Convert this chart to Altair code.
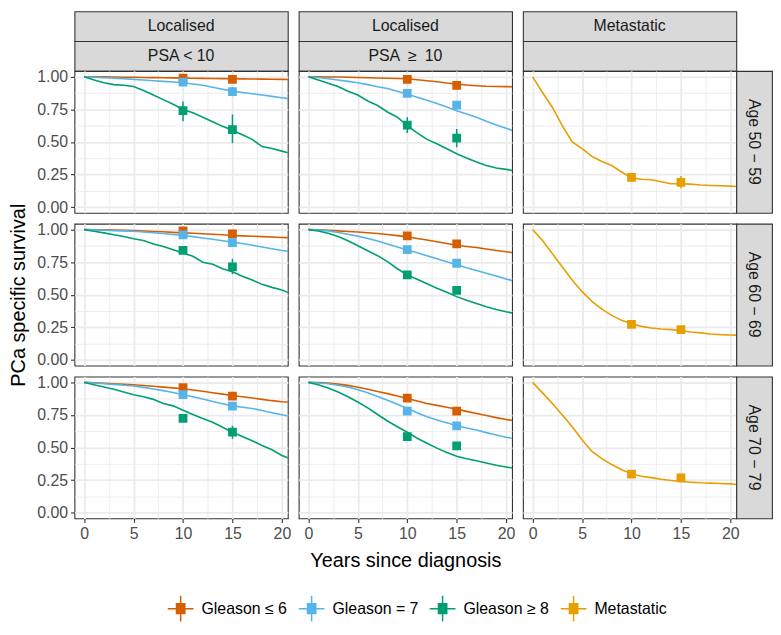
import altair as alt
import pandas as pd

FONT = "Liberation Sans"
YEARS = list(range(22))
SERIES = ["Gleason \u2264 6", "Gleason = 7", "Gleason \u2265 8", "Metastatic"]
COLORS = ["#D55E00", "#56B4E9", "#009E73", "#E69F00"]
COL_TOP = ["Localised", "Localised", "Metastatic"]
COL_SUB = ["PSA < 10", "PSA\u2002\u2265\u200210", ""]
ROW_LABELS = ["Age 50 \u2212 59", "Age 60 \u2212 69", "Age 70 \u2212 79"]
X_TICKS = [0, 2.5, 5, 7.5, 10, 12.5, 15, 17.5, 20]
Y_TICKS = [0, 0.125, 0.25, 0.375, 0.5, 0.625, 0.75, 0.875, 1.0]
POINT_YEARS = [10, 15]

# ---- survival curves (years 0..21) ----
# Row 1: Age 50-59
A1_G6 = [1.0, 1.0, 1.0, 0.998, 0.997, 0.996, 0.995, 0.994, 0.993, 0.992, 0.99, 0.989, 0.988, 0.987, 0.986, 0.985, 0.984, 0.983, 0.982, 0.981, 0.98, 0.979]
A1_G7 = [1.0, 0.997, 0.993, 0.99, 0.985, 0.98, 0.975, 0.97, 0.965, 0.96, 0.954, 0.945, 0.935, 0.92, 0.905, 0.89, 0.88, 0.87, 0.86, 0.85, 0.84, 0.828]
A1_G8 = [1.0, 0.975, 0.955, 0.94, 0.935, 0.925, 0.895, 0.86, 0.825, 0.79, 0.75, 0.725, 0.69, 0.655, 0.62, 0.59, 0.555, 0.52, 0.465, 0.45, 0.43, 0.41]
B1_G6 = [1.0, 1.0, 0.999, 0.998, 0.997, 0.995, 0.993, 0.991, 0.989, 0.987, 0.985, 0.978, 0.97, 0.962, 0.952, 0.944, 0.937, 0.932, 0.928, 0.926, 0.925, 0.923]
B1_G7 = [1.0, 0.995, 0.985, 0.975, 0.965, 0.955, 0.94, 0.924, 0.91, 0.89, 0.866, 0.843, 0.82, 0.795, 0.768, 0.74, 0.715, 0.69, 0.66, 0.63, 0.605, 0.58]
B1_G8 = [1.0, 0.975, 0.95, 0.925, 0.89, 0.86, 0.815, 0.78, 0.73, 0.69, 0.625, 0.57, 0.52, 0.486, 0.448, 0.41, 0.377, 0.347, 0.32, 0.30, 0.29, 0.276]
C1_M = [1.0, 0.88, 0.765, 0.625, 0.50, 0.45, 0.39, 0.35, 0.32, 0.27, 0.225, 0.215, 0.21, 0.195, 0.18, 0.18, 0.177, 0.17, 0.167, 0.165, 0.162, 0.157]
# Row 2: Age 60-69
A2_G6 = [1.0, 0.999, 0.998, 0.996, 0.994, 0.992, 0.989, 0.986, 0.983, 0.979, 0.975, 0.972, 0.968, 0.964, 0.96, 0.955, 0.952, 0.949, 0.946, 0.943, 0.94, 0.938]
A2_G7 = [1.0, 0.998, 0.995, 0.992, 0.99, 0.987, 0.982, 0.976, 0.97, 0.963, 0.955, 0.946, 0.936, 0.926, 0.915, 0.904, 0.893, 0.88, 0.867, 0.853, 0.84, 0.832]
A2_G8 = [1.0, 0.987, 0.975, 0.96, 0.947, 0.93, 0.916, 0.89, 0.87, 0.845, 0.82, 0.795, 0.75, 0.734, 0.70, 0.676, 0.643, 0.613, 0.58, 0.557, 0.537, 0.506]
B2_G6 = [1.0, 0.998, 0.995, 0.99, 0.986, 0.982, 0.976, 0.97, 0.963, 0.954, 0.944, 0.932, 0.92, 0.907, 0.894, 0.88, 0.871, 0.863, 0.851, 0.84, 0.83, 0.82]
B2_G7 = [1.0, 0.996, 0.99, 0.978, 0.965, 0.95, 0.932, 0.912, 0.89, 0.867, 0.843, 0.822, 0.80, 0.776, 0.753, 0.73, 0.708, 0.686, 0.665, 0.645, 0.622, 0.60]
B2_G8 = [1.0, 0.99, 0.972, 0.947, 0.914, 0.876, 0.838, 0.80, 0.754, 0.70, 0.653, 0.619, 0.585, 0.55, 0.52, 0.486, 0.458, 0.433, 0.408, 0.387, 0.37, 0.355]
C2_M = [1.0, 0.916, 0.815, 0.714, 0.613, 0.524, 0.45, 0.39, 0.342, 0.304, 0.278, 0.258, 0.246, 0.238, 0.233, 0.225, 0.215, 0.208, 0.20, 0.195, 0.192, 0.19]
# Row 3: Age 70-79
A3_G6 = [1.0, 0.997, 0.993, 0.99, 0.986, 0.982, 0.976, 0.97, 0.964, 0.958, 0.952, 0.942, 0.932, 0.921, 0.91, 0.90, 0.89, 0.88, 0.87, 0.86, 0.852, 0.848]
A3_G7 = [1.0, 0.996, 0.99, 0.985, 0.978, 0.972, 0.962, 0.95, 0.937, 0.922, 0.906, 0.89, 0.872, 0.853, 0.836, 0.82, 0.81, 0.80, 0.785, 0.768, 0.752, 0.737]
A3_G8 = [1.0, 0.982, 0.965, 0.947, 0.927, 0.906, 0.89, 0.87, 0.838, 0.82, 0.787, 0.754, 0.724, 0.694, 0.656, 0.618, 0.585, 0.552, 0.516, 0.484, 0.44, 0.41]
B3_G6 = [1.0, 0.998, 0.995, 0.987, 0.977, 0.963, 0.947, 0.93, 0.914, 0.895, 0.876, 0.857, 0.838, 0.824, 0.81, 0.795, 0.778, 0.762, 0.746, 0.73, 0.715, 0.704]
B3_G7 = [1.0, 0.996, 0.99, 0.978, 0.965, 0.944, 0.92, 0.892, 0.863, 0.832, 0.80, 0.768, 0.737, 0.712, 0.69, 0.668, 0.65, 0.635, 0.615, 0.597, 0.58, 0.565]
B3_G8 = [1.0, 0.982, 0.957, 0.927, 0.89, 0.85, 0.805, 0.754, 0.704, 0.66, 0.618, 0.572, 0.534, 0.496, 0.463, 0.433, 0.415, 0.40, 0.382, 0.365, 0.352, 0.337]
C3_M = [1.0, 0.92, 0.838, 0.75, 0.66, 0.56, 0.471, 0.415, 0.37, 0.33, 0.30, 0.28, 0.27, 0.258, 0.248, 0.24, 0.235, 0.23, 0.228, 0.225, 0.222, 0.215]

# ---- observed estimates at 10 and 15 years: (estimate, lower, upper) ----
A1_PTS = {SERIES[0]: [(0.99, 0.98, 1.0), (0.98, 0.965, 0.99)],
          SERIES[1]: [(0.96, 0.945, 0.975), (0.886, 0.85, 0.92)],
          SERIES[2]: [(0.74, 0.66, 0.81), (0.595, 0.49, 0.71)]}
B1_PTS = {SERIES[0]: [(0.98, 0.97, 0.99), (0.934, 0.92, 0.95)],
          SERIES[1]: [(0.873, 0.86, 0.89), (0.782, 0.75, 0.81)],
          SERIES[2]: [(0.63, 0.57, 0.69), (0.53, 0.46, 0.60)]}
C1_PTS = {SERIES[3]: [(0.228, 0.195, 0.26), (0.19, 0.145, 0.24)]}
A2_PTS = {SERIES[0]: [(0.99, 0.98, 1.0), (0.967, 0.955, 0.98)],
          SERIES[1]: [(0.96, 0.95, 0.97), (0.90, 0.885, 0.915)],
          SERIES[2]: [(0.84, 0.82, 0.86), (0.714, 0.658, 0.777)]}
B2_PTS = {SERIES[0]: [(0.952, 0.94, 0.965), (0.89, 0.875, 0.905)],
          SERIES[1]: [(0.846, 0.83, 0.86), (0.742, 0.725, 0.76)],
          SERIES[2]: [(0.653, 0.635, 0.67), (0.534, 0.51, 0.555)]}
C2_PTS = {SERIES[3]: [(0.273, 0.26, 0.285), (0.233, 0.22, 0.245)]}
A3_PTS = {SERIES[0]: [(0.96, 0.95, 0.97), (0.894, 0.88, 0.91)],
          SERIES[1]: [(0.906, 0.895, 0.92), (0.818, 0.80, 0.835)],
          SERIES[2]: [(0.724, 0.70, 0.75), (0.618, 0.567, 0.668)]}
B3_PTS = {SERIES[0]: [(0.88, 0.87, 0.89), (0.78, 0.765, 0.795)],
          SERIES[1]: [(0.78, 0.765, 0.795), (0.666, 0.65, 0.68)],
          SERIES[2]: [(0.585, 0.565, 0.605), (0.514, 0.495, 0.535)]}
C3_PTS = {SERIES[3]: [(0.296, 0.285, 0.31), (0.268, 0.255, 0.28)]}

CURVES = {
    (0, 0): {SERIES[0]: A1_G6, SERIES[1]: A1_G7, SERIES[2]: A1_G8},
    (0, 1): {SERIES[0]: B1_G6, SERIES[1]: B1_G7, SERIES[2]: B1_G8},
    (0, 2): {SERIES[3]: C1_M},
    (1, 0): {SERIES[0]: A2_G6, SERIES[1]: A2_G7, SERIES[2]: A2_G8},
    (1, 1): {SERIES[0]: B2_G6, SERIES[1]: B2_G7, SERIES[2]: B2_G8},
    (1, 2): {SERIES[3]: C2_M},
    (2, 0): {SERIES[0]: A3_G6, SERIES[1]: A3_G7, SERIES[2]: A3_G8},
    (2, 1): {SERIES[0]: B3_G6, SERIES[1]: B3_G7, SERIES[2]: B3_G8},
    (2, 2): {SERIES[3]: C3_M},
}
POINTS = {
    (0, 0): A1_PTS, (0, 1): B1_PTS, (0, 2): C1_PTS,
    (1, 0): A2_PTS, (1, 1): B2_PTS, (1, 2): C2_PTS,
    (2, 0): A3_PTS, (2, 1): B3_PTS, (2, 2): C3_PTS,
}

# ---- layout / style ----
W, H = 215, 143
STRIP_H = 30
STRIP_W = 36
GAP = 11
GRID = "#EBEBEB"
DARK = "#333333"

x_major = "datum.value % 5 === 0"
y_major = "abs(datum.value * 4 - round(datum.value * 4)) < 0.001"

stripes = [i * 0.076 - 0.38 for i in range(11)]
SYMBOL = "M-1,0H1M0,-1V1" + "".join(f"M-0.38,{s:.3f}H0.38" for s in stripes)

LEGEND = alt.Legend(
    title=None, orient="none", direction="horizontal", legendX=93, legendY=588,
    symbolType=SYMBOL, symbolSize=676, symbolStrokeWidth=1.5, symbolOpacity=1,
    labelFontSize=16, labelFont=FONT, labelColor="#000000", labelOffset=7,
    columnPadding=8, padding=0,
)
COLOR_SCALE = alt.Scale(domain=SERIES, range=COLORS)


def x_axis(show, title):
    kw = dict(
        values=X_TICKS, grid=True, gridColor=GRID,
        gridWidth={"condition": {"test": x_major, "value": 1.8}, "value": 0.9},
        domain=False, labels=show, ticks=show, labelOverlap=False,
    )
    if show:
        kw.update(labelExpr=f"{x_major} ? datum.label : ''", tickSize=4, tickColor=DARK,
                  tickWidth=1.1, tickOpacity={"condition": {"test": x_major, "value": 1}, "value": 0},
                  labelFontSize=16, labelColor="#4D4D4D", labelFont=FONT, labelPadding=3)
    if title:
        kw.update(title=title, titleFontSize=20, titleFont=FONT, titleColor="#000000",
                  titleFontWeight="normal", titlePadding=9)
    else:
        kw.update(title=None)
    return alt.Axis(**kw)


def y_axis(show, title):
    kw = dict(
        values=Y_TICKS, grid=True, gridColor=GRID,
        gridWidth={"condition": {"test": y_major, "value": 1.8}, "value": 0.9},
        domain=False, labels=show, ticks=show, labelOverlap=False,
    )
    if show:
        kw.update(labelExpr=f"{y_major} ? format(datum.value, '.2f') : ''", tickSize=4,
                  tickColor=DARK, tickWidth=1.1,
                  tickOpacity={"condition": {"test": y_major, "value": 1}, "value": 0},
                  labelFontSize=16, labelColor="#4D4D4D", labelFont=FONT, labelPadding=3)
    if title:
        kw.update(title=title, titleFontSize=20, titleFont=FONT, titleColor="#000000",
                  titleFontWeight="normal", titlePadding=8)
    else:
        kw.update(title=None)
    return alt.Axis(**kw)


def panel(r, c):
    line_rows = []
    for g, vals in CURVES[(r, c)].items():
        for yr, v in zip(YEARS, vals):
            line_rows.append({"group": g, "year": yr, "surv": v})
    pt_rows = []
    for g, pts in POINTS[(r, c)].items():
        for yr, (est, lo, hi) in zip(POINT_YEARS, pts):
            pt_rows.append({"group": g, "year": yr, "est": est, "lo": lo, "hi": hi})
    ldf = pd.DataFrame(line_rows)
    pdf = pd.DataFrame(pt_rows)

    xs = alt.Scale(domain=[-0.98, 20.6], nice=False, zero=False)
    ys = alt.Scale(domain=[-0.043, 1.045], nice=False, zero=False)
    xax = x_axis(r == 2, "Years since diagnosis" if (r == 2 and c == 1) else None)
    yax = y_axis(c == 0, "PCa specific survival" if (r == 1 and c == 0) else None)

    lines = alt.Chart(ldf).mark_line(strokeWidth=1.6, clip=True).encode(
        x=alt.X("year:Q", scale=xs, axis=xax),
        y=alt.Y("surv:Q", scale=ys, axis=yax),
        color=alt.Color("group:N", scale=COLOR_SCALE, legend=LEGEND),
        detail="group:N",
    )
    bars = alt.Chart(pdf).mark_rule(strokeWidth=1.5, clip=True).encode(
        x=alt.X("year:Q", scale=xs, axis=xax),
        y=alt.Y("lo:Q", scale=ys, axis=yax),
        y2="hi:Q",
        color=alt.Color("group:N", scale=COLOR_SCALE, legend=None),
    )
    pts = alt.Chart(pdf).mark_square(size=78, opacity=1, clip=True).encode(
        x=alt.X("year:Q", scale=xs, axis=xax),
        y=alt.Y("est:Q", scale=ys, axis=yax),
        color=alt.Color("group:N", scale=COLOR_SCALE, legend=None),
    )
    return alt.layer(lines, bars, pts).properties(
        width=W, height=H,
        view=alt.ViewBackground(fill="white", stroke=DARK, strokeWidth=1.1),
    )


def strip(text, w, h, angle=0, boxed=True):
    if boxed:
        view = alt.ViewBackground(fill="#D9D9D9", stroke=DARK, strokeWidth=1.1)
    else:
        view = alt.ViewBackground(fill="transparent", stroke="transparent")
    df = pd.DataFrame({"t": [text], "px": [0.5], "py": [0.5]})
    return alt.Chart(df).mark_text(
        fontSize=16, font=FONT, color="#1A1A1A", angle=angle,
        align="center", baseline="middle",
    ).encode(
        x=alt.X("px:Q", scale=alt.Scale(domain=[0, 1]), axis=None),
        y=alt.Y("py:Q", scale=alt.Scale(domain=[0, 1]), axis=None),
        text="t:N",
    ).properties(width=w, height=h, view=view)


def empty(w, h):
    return strip("", w, h, boxed=False)


cells = []
for labels in (COL_TOP, COL_SUB):
    cells += [strip(labels[0], W, STRIP_H), empty(GAP, STRIP_H),
              strip(labels[1], W, STRIP_H), empty(GAP, STRIP_H),
              strip(labels[2], W, STRIP_H), empty(STRIP_W, STRIP_H)]
for r in range(3):
    if r > 0:
        cells += [empty(W, GAP), empty(GAP, GAP), empty(W, GAP), empty(GAP, GAP),
                  empty(W, GAP), empty(STRIP_W, GAP)]
    cells += [panel(r, 0), empty(GAP, H), panel(r, 1), empty(GAP, H), panel(r, 2),
              strip(ROW_LABELS[r], STRIP_W, H, angle=90)]

chart = alt.concat(*cells, columns=6, spacing=0, bounds="flush").properties(
    padding=0, background="white"
).configure_view(stroke=DARK).configure(font=FONT)

chart.save("out.html", embed_options={"renderer": "svg", "actions": False})
